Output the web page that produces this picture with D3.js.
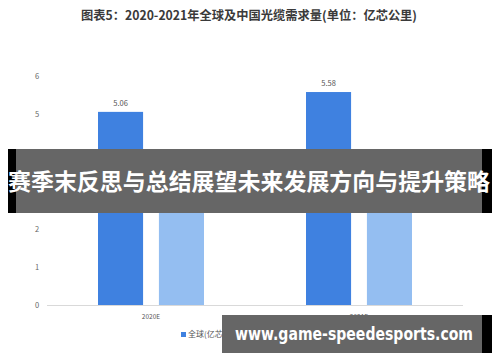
<!DOCTYPE html>
<html><head><meta charset="utf-8">
<script src="https://cdn.jsdelivr.net/npm/d3@7"></script>
<style>body{margin:0;background:#fff}svg{display:block}</style>
</head><body>
<svg id="c" width="500" height="362"></svg>
<script>
const categories = ["2020E", "2021E"];
const seriesNames = ["全球(亿芯公里)", "中国(亿芯公里)"];
const globalValues = [5.06, 5.58];
const chinaValues = [2.5, 2.88];
const yTicks = [0, 1, 2, 3, 4, 5, 6];
const titleText = "图表5：2020-2021年全球及中国光缆需求量(单位：亿芯公里)";
const bannerText = "赛季末反思与总结展望未来发展方向与提升策略";
const urlText = "www.game-speedesports.com";

const colors = ["#3f81e0", "#94bef1"];
const svg = d3.select("#c");
const font = "'Microsoft YaHei','Noto Sans CJK SC',sans-serif";

svg.append("text").attr("x", 249).attr("y", 20).attr("text-anchor", "middle")
  .attr("font-family", font).attr("font-weight", "bold").attr("font-size", 12.5)
  .attr("fill", "#3a3a3a").attr("textLength", 336).attr("lengthAdjust", "spacingAndGlyphs").text(titleText);

const x0 = d3.scaleBand().domain(categories).range([47, 463]);
const x1 = d3.scaleBand().domain([0, 1]).range([0, 106]).paddingInner(0.26);
const y = d3.scaleLinear().domain([0, 6]).range([305, 76]);

// y tick labels
svg.append("g").selectAll("text").data(yTicks).join("text")
  .attr("x", 37).attr("y", d => y(d) + 3).attr("text-anchor", "middle")
  .attr("font-family", font).attr("font-size", 7.5).attr("fill", "#666").text(d => d);

// baseline
svg.append("line").attr("x1", 47).attr("x2", 463).attr("y1", y(0) + 0.5).attr("y2", y(0) + 0.5)
  .attr("stroke", "#d9d9d9").attr("stroke-width", 1);

const data = categories.map((c, i) => ({c, vals: [globalValues[i], chinaValues[i]]}));
const groups = svg.append("g").selectAll("g").data(data).join("g")
  .attr("transform", d => `translate(${x0(d.c) + x0.bandwidth() / 2 - 53},0)`);
groups.selectAll("rect").data(d => d.vals.map((v, k) => ({v, k}))).join("rect")
  .attr("x", d => x1(d.k)).attr("width", x1.bandwidth())
  .attr("y", d => y(d.v)).attr("height", d => y(0) - y(d.v))
  .attr("fill", d => colors[d.k]);
groups.selectAll("text").data(d => d.vals.map((v, k) => ({v, k}))).join("text")
  .attr("x", d => x1(d.k) + x1.bandwidth() / 2).attr("y", d => y(d.v) - 6)
  .attr("text-anchor", "middle").attr("font-family", font).attr("font-size", 7.5)
  .attr("fill", "#555").text(d => d.v);

// category labels
svg.append("g").selectAll("text").data(categories).join("text")
  .attr("x", d => x0(d) + x0.bandwidth() / 2).attr("y", 319).attr("text-anchor", "middle")
  .attr("font-family", font).attr("font-size", 6.5).attr("fill", "#555").text(d => d);

// legend
const leg = svg.append("g").selectAll("g").data(seriesNames).join("g")
  .attr("transform", (d, i) => `translate(${181 + i * 72},337)`);
leg.append("rect").attr("x", 0).attr("y", -5).attr("width", 5).attr("height", 5).attr("fill", (d, i) => colors[i]);
leg.append("text").attr("x", 7).attr("y", 0).attr("font-family", font).attr("font-size", 8)
  .attr("fill", "#555").text(d => d);

// overlay banner
svg.append("rect").attr("x", 8).attr("y", 149).attr("width", 484).attr("height", 64).attr("fill", "#000");
svg.append("rect").attr("x", 16).attr("y", 149).attr("width", 466).attr("height", 64).attr("fill", "#fff");
svg.append("rect").attr("x", 16).attr("y", 149).attr("width", 466).attr("height", 64).attr("fill", "rgba(0,0,0,0.6)");
svg.append("text").attr("x", 249).attr("y", 190).attr("text-anchor", "middle")
  .attr("font-family", font).attr("font-weight", "bold").attr("font-size", 23)
  .attr("fill", "#fff").attr("textLength", 482).attr("lengthAdjust", "spacingAndGlyphs").text(bannerText);
</script>
<script>
(function(){
  const svg = d3.select("#c");
  svg.append("rect").attr("x", 222).attr("y", 315).attr("width", 270).attr("height", 38).attr("fill", "#000");
  svg.append("rect").attr("x", 222).attr("y", 315).attr("width", 260).attr("height", 38).attr("fill", "#fff");
  svg.append("rect").attr("x", 222).attr("y", 315).attr("width", 260).attr("height", 38).attr("fill", "rgba(0,0,0,0.6)");
  svg.append("text").attr("x", 235).attr("y", 340)
    .attr("font-family", "'DejaVu Sans',sans-serif").attr("font-weight", "bold").attr("font-size", 17)
    .attr("fill", "#fff").attr("textLength", 238).attr("lengthAdjust", "spacingAndGlyphs").text(urlText);
})();
</script>
</body></html>
